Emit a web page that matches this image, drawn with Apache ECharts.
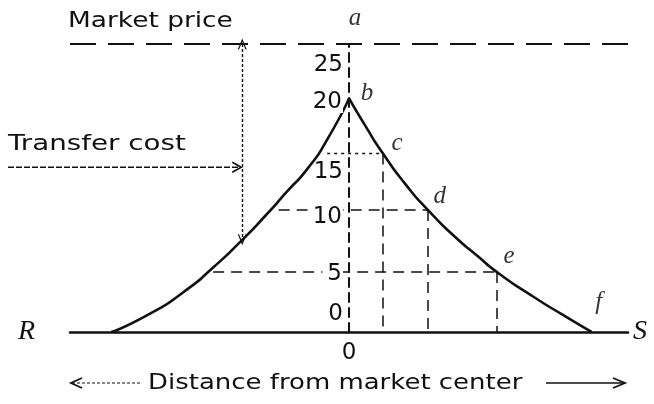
<!DOCTYPE html>
<html>
<head>
<meta charset="utf-8">
<script src="https://cdn.jsdelivr.net/npm/echarts@6/dist/echarts.min.js"></script>
<style>
html, body { margin: 0; padding: 0; background: #fff; }
#main { width: 654px; height: 404px; }
</style>
</head>
<body>
<div id="main"></div>
<script>
var marketPrice = 25; //市场价格
var yTicks = [0, 5, 10, 15, 20, 25]; //纵轴刻度
var leftCurve = [[-98, 0], [-82, 1.6], [-68, 3.5], [-56, 5.6], [-44, 8.0], [-34, 10.2], [-25.5, 12.2], [-17, 14.2], [-9, 16.7], [0, 20.3]];
var rightCurve = [[0, 20.3], [7, 17.8], [14, 15.5], [23, 12.9], [32.5, 10.6], [44, 8.2], [53, 6.6], [61, 5.2], [75, 3.2], [88, 1.5], [100, 0]];
var pointNames = ['a', 'b', 'c', 'd', 'e', 'f'];
var pointValues = [[0, 25], [0, 20.3], [14, 15.5], [32.5, 10.6], [61, 5.2], [100, 0]];
var guideLeftEnds = [-9, -29, -56]; //c,d,e 水平虚线左端
var transferAt = [-44, 8.0]; //运费箭头落点
var transferArrowY = 14.3;

var ink = '#111';
var sans = 'DejaVu Sans';
var serif = 'Liberation Serif';
var gridLeft = 70, gridRight = 26, xMin = -115, xMax = 115;

var chart = echarts.init(document.getElementById('main'));
initCharts();
addNotes();

/**
 * @desc 图表
 */
function initCharts() {
    var labelOffsets = [[6, -26], [18, -5], [14, -10], [12, -13], [12, -16], [7, -30]];
    var pts = [];
    for (var i = 0; i < pointValues.length; i++) {
        pts.push({
            value: pointValues[i],
            name: pointNames[i],
            label: { offset: labelOffsets[i] }
        });
    }

    //虚线辅助线
    var guides = [];
    var dash = { color: ink, width: 1.5, type: [11, 7] };
    for (var k = 2; k <= 4; k++) {
        var p = pointValues[k];
        guides.push([
            { coord: [guideLeftEnds[k - 2], p[1]], lineStyle: k === 2 ? { color: ink, width: 1.3, type: [3, 4] } : dash },
            { coord: [p[0], p[1]] }
        ]);
        guides.push([
            { coord: [p[0], p[1]], lineStyle: dash },
            { coord: [p[0], 0] }
        ]);
    }
    guides.push({ yAxis: marketPrice, lineStyle: { color: ink, width: 2, type: [26, 12] } });
    var chevron = 'path://M0,10 L5,0 L10,10 L8.6,10 L5,3 L1.4,10 Z';
    guides.push([
        { coord: [transferAt[0], marketPrice], lineStyle: { color: ink, width: 1.4, type: [3, 2] }, symbol: chevron },
        { coord: transferAt, symbol: chevron }
    ]);

    //纵轴放在距离 0 处
    var yOffset = -(654 - gridLeft - gridRight) * (0 - xMin) / (xMax - xMin);

    var curveStyle = { color: ink, width: 2.6 };
    var option = {
        backgroundColor: '#fff',
        animation: false,
        grid: { left: gridLeft, right: gridRight, top: 44, bottom: 72 },
        xAxis: {
            type: 'value',
            min: xMin,
            max: xMax,
            interval: 115,
            splitLine: { show: false },
            axisTick: { show: false },
            axisLine: { lineStyle: { color: ink, width: 2.5 } },
            axisLabel: {
                margin: 10,
                color: ink,
                fontSize: 23,
                fontFamily: sans,
                formatter: function (v) { return v === 0 ? '0' : ''; }
            },
            name: 'S',
            nameLocation: 'end',
            nameGap: 5,
            nameTextStyle: { color: ink, fontSize: 28, fontFamily: serif, fontStyle: 'italic' }
        },
        yAxis: {
            type: 'value',
            min: yTicks[0],
            max: yTicks[yTicks.length - 1],
            interval: 5,
            position: 'left',
            offset: yOffset,
            z: 5,
            splitLine: { show: false },
            axisTick: { show: false },
            axisLine: { onZero: false, lineStyle: { color: ink, width: 2, type: [9, 6] } },
            axisLabel: {
                margin: 6,
                color: ink,
                fontSize: 23,
                fontFamily: sans,
                formatter: function (v) {
                    if (v === 0) return '{t0|0}';
                    if (v === 15) return '{t15|15}';
                    if (v === 25) return '{t25|25}';
                    return '{n|' + v + '}';
                },
                rich: {
                    n: { color: ink, fontSize: 23, fontFamily: sans, backgroundColor: '#fff', padding: [0, 1, 0, 5] },
                    t0: { color: ink, fontSize: 23, fontFamily: sans, padding: [0, 0, 36, 0] },
                    t15: { color: ink, fontSize: 23, fontFamily: sans, padding: [26, 0, 0, 0] },
                    t25: { color: ink, fontSize: 23, fontFamily: sans, padding: [42, 0, 0, 0] }
                }
            }
        },
        series: [{
            type: 'line',
            name: 'left',
            data: leftCurve,
            smooth: 0.7,
            showSymbol: false,
            lineStyle: curveStyle
        }, {
            type: 'line',
            name: 'right',
            data: rightCurve,
            smooth: 0.7,
            showSymbol: false,
            lineStyle: curveStyle,
            markLine: {
                silent: true,
                symbol: 'none',
                symbolSize: [9, 11],
                label: { show: false },
                data: guides
            }
        }, {
            type: 'scatter',
            name: 'points',
            data: pts,
            symbolSize: 0.1,
            clip: false,
            itemStyle: { color: ink },
            label: {
                show: true,
                position: 'inside',
                color: '#000',
                fontSize: 25,
                fontFamily: serif,
                fontStyle: 'italic',
                formatter: function (p) { return p.name; }
            }
        }]
    };
    chart.setOption(option);
}

/**
 * @desc 文字与箭头
 */
function addNotes() {
    var tip = chart.convertToPixel({ gridIndex: 0 }, [transferAt[0], transferArrowY]);
    var base = chart.convertToPixel({ gridIndex: 0 }, [0, 0]);
    var txt = { fill: ink, fontSize: 22, fontFamily: sans };
    var by = 383;
    var g = [
        { type: 'text', x: 68, y: 10, scaleX: 1.2, style: Object.assign({ text: 'Market price' }, txt) },
        { type: 'text', x: 8, y: 133, scaleX: 1.26, style: Object.assign({ text: 'Transfer cost' }, txt) },
        { type: 'line', shape: { x1: 8, y1: tip[1], x2: tip[0] - 2, y2: tip[1] }, style: { stroke: ink, lineWidth: 1.4, lineDash: [6, 2] } },
        { type: 'polyline', shape: { points: [[tip[0] - 10, tip[1] - 5], [tip[0] - 1, tip[1]], [tip[0] - 10, tip[1] + 5]] }, style: { stroke: ink, lineWidth: 1.6, fill: null } },
        { type: 'text', x: 18, y: base[1], style: { text: 'R', fill: ink, fontSize: 28, fontFamily: serif, fontStyle: 'italic', verticalAlign: 'middle' } },
        { type: 'text', x: 148, y: by, scaleX: 1.18, style: Object.assign({ text: 'Distance from market center', verticalAlign: 'middle' }, txt) },
        { type: 'line', shape: { x1: 72, y1: by, x2: 140, y2: by }, style: { stroke: ink, lineWidth: 1.2, lineDash: [3, 2] } },
        { type: 'polyline', shape: { points: [[82, by - 5], [71, by], [82, by + 5]] }, style: { stroke: ink, lineWidth: 1.8, fill: null } },
        { type: 'line', shape: { x1: 546, y1: by, x2: 624, y2: by }, style: { stroke: ink, lineWidth: 1.6 } },
        { type: 'polyline', shape: { points: [[613, by - 5], [625, by], [613, by + 5]] }, style: { stroke: ink, lineWidth: 1.8, fill: null } }
    ];
    chart.setOption({ graphic: g });
}
</script>
</body>
</html>
